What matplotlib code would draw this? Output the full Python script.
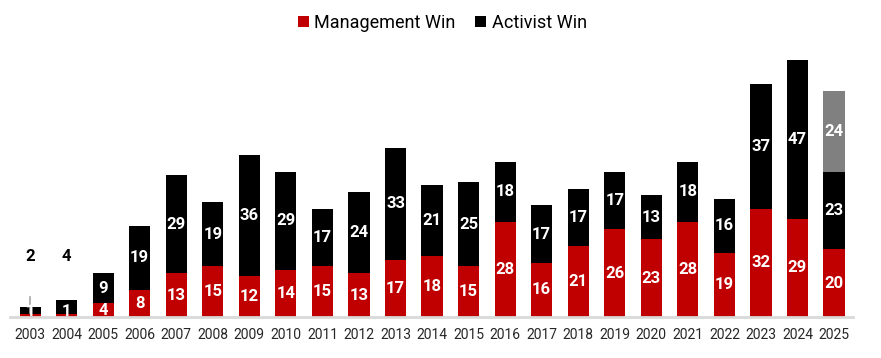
import matplotlib.pyplot as plt
import numpy as np

plt.rcParams['font.family'] = ['Roboto', 'DejaVu Sans']

# Data
years = [str(y) for y in range(2003, 2026)]
management = [1, 1, 4, 8, 13, 15, 12, 14, 15, 13, 17, 18, 15, 28, 16, 21, 26, 23, 28, 19, 32, 29, 20]
activist = [2, 4, 9, 19, 29, 19, 36, 29, 17, 24, 33, 21, 25, 18, 17, 17, 17, 13, 18, 16, 37, 47, 23]
pending = [0] * 22 + [24]

red = '#C00000'
black = '#000000'
grey = '#808080'

x = np.arange(len(years))
management = np.array(management)
activist = np.array(activist)
pending = np.array(pending)

fig = plt.figure(figsize=(8.81, 3.58), dpi=100)
ax = fig.add_axes([10 / 881, 41 / 358, 843 / 881, 267 / 358])

w = 0.58
ax.bar(x, management, w, color=red, label='Management Win')
ax.bar(x, activist, w, bottom=management, color=black, label='Activist Win')
ax.bar(x, pending, w, bottom=management + activist, color=grey)

lab = dict(ha='center', va='center', fontsize=12, fontweight='bold')
for i in range(len(years)):
    m, a, p = management[i], activist[i], pending[i]
    ax.text(x[i], max(m / 2, 1.5), str(m), color='white', **lab)
    if a < 5:
        # small bars: activist label sits above the bar
        ax.text(x[i], 18, str(a), color='black', **lab)
    else:
        ax.text(x[i], m + a / 2, str(a), color='white', **lab)
    if p > 0:
        ax.text(x[i], m + a + p / 2, str(p), color='white', **lab)

# leader line for 2003
ax.plot([x[0], x[0]], [1.2, 6.0], color='#a6a6a6', lw=1.2)

ax.set_xlim(-0.55, len(years) - 0.48)
ax.set_ylim(0, 79)
ax.set_xticks(x)
ax.set_xticklabels(years, fontsize=10, color='#262626')
ax.tick_params(axis='x', length=0, pad=8)
ax.set_yticks([])
for s in ['top', 'right', 'left']:
    ax.spines[s].set_visible(False)
ax.spines['bottom'].set_color('#d9d9d9')
ax.spines['bottom'].set_linewidth(2)

handles, labels = ax.get_legend_handles_labels()
fig.legend(handles, labels, loc='center', bbox_to_anchor=(0.502, 1 - 23 / 358), ncol=2,
           frameon=False, fontsize=13, handlelength=0.6, handleheight=0.6,
           handletextpad=0.3, columnspacing=1.1)

fig.savefig('out.png', dpi=100)
